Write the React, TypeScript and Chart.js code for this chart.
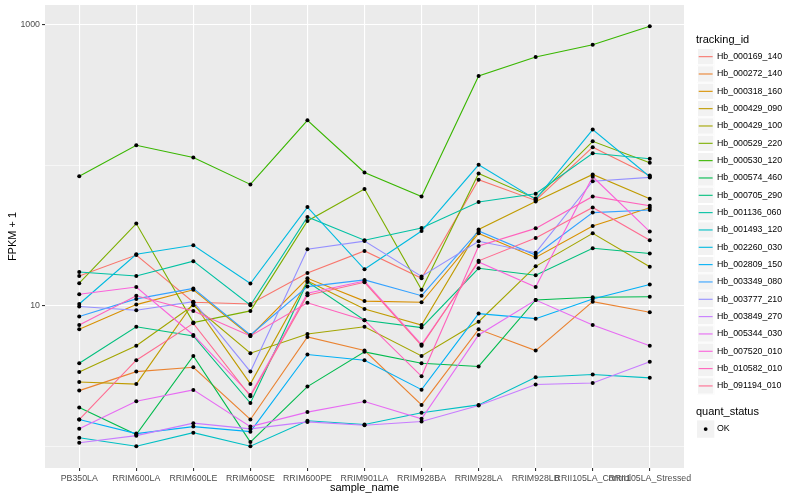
import React, { useEffect, useRef } from "react";
import { Chart, registerables } from "chart.js";

Chart.register(...registerables);

const sampleNames = [
  "PB350LA", "RRIM600LA", "RRIM600LE", "RRIM600SE", "RRIM600PE", "RRIM901LA",
  "RRIM928BA", "RRIM928LA", "RRIM928LB", "RRII105LA_Control", "RRII105LA_Stressed",
];

const trackingIds = [
  "Hb_000169_140", "Hb_000272_140", "Hb_000318_160", "Hb_000429_090", "Hb_000429_100",
  "Hb_000529_220", "Hb_000530_120", "Hb_000574_460", "Hb_000705_290", "Hb_001136_060",
  "Hb_001493_120", "Hb_002260_030", "Hb_002809_150", "Hb_003349_080", "Hb_003777_210",
  "Hb_003849_270", "Hb_005344_030", "Hb_007520_010", "Hb_010582_010", "Hb_091194_010",
];

const seriesColors = [
  "#F8766D", "#EA8331", "#D89000", "#C09B00", "#A3A500", "#7CAE00", "#39B600",
  "#00BB4E", "#00BF7D", "#00C1A3", "#00BFC4", "#00BAE0", "#00B0F6", "#35A2FF",
  "#9590FF", "#C77CFF", "#E76BF3", "#FA62DB", "#FF62BC", "#FF6C91",
];

// FPKM + 1 per sample (order of sampleNames)
const hb000169_140 = [16.3, 23.0, 10.6, 10.3, 17.1, 24.6, 15.7, 79.0, 56.3, 134.7, 84.8];
const hb000272_140 = [2.49, 3.4, 3.65, 1.55, 6.0, 4.8, 1.97, 6.8, 4.8, 10.7, 9.0];
const hb000318_160 = [6.8, 10.2, 13.0, 6.1, 15.7, 10.8, 10.6, 32.8, 22.1, 37.0, 50.0];
const hb000429_090 = [2.87, 2.77, 10.5, 2.78, 15.0, 9.5, 7.3, 35.0, 55.4, 86.2, 57.9];
const hb000429_100 = [3.38, 5.2, 10.1, 4.6, 6.3, 7.1, 4.4, 7.7, 19.1, 32.8, 19.0];
const hb000529_220 = [14.5, 38.5, 7.6, 9.2, 40.2, 67.8, 13.0, 87.6, 58.2, 148.5, 104.3];
const hb000530_120 = [83.8, 139.2, 113.8, 73.2, 209.4, 89.0, 60.1, 432.9, 590.6, 722, 980];
const hb000574_460 = [1.89, 1.21, 4.4, 1.07, 2.66, 4.7, 3.9, 3.7, 11.0, 11.5, 11.6];
const hb000705_290 = [3.9, 7.1, 6.1, 2.03, 14.8, 7.9, 7.0, 18.5, 16.5, 25.7, 23.6];
const hb001136_060 = [17.4, 16.3, 20.8, 10.1, 42.9, 29.3, 35.8, 54.8, 62.8, 122.1, 111.4];
const hb001493_120 = [1.15, 1.0, 1.25, 1.0, 1.52, 1.43, 1.73, 1.97, 3.1, 3.24, 3.07];
const hb002260_030 = [10.3, 23.3, 27.0, 14.4, 50.5, 18.2, 34.1, 101.0, 57.3, 179.9, 83.0];
const hb002809_150 = [1.55, 1.23, 1.38, 1.27, 4.5, 4.1, 2.53, 8.8, 8.1, 11.2, 14.2];
const hb003349_080 = [8.4, 11.2, 13.3, 6.2, 13.7, 15.3, 11.8, 34.1, 23.0, 46.1, 48.1];
const hb003777_210 = [9.9, 9.3, 10.7, 3.4, 25.3, 28.9, 16.2, 28.8, 23.9, 77.2, 82.1];
const hb003849_270 = [1.06, 1.19, 1.46, 1.33, 1.49, 1.41, 1.5, 1.95, 2.75, 2.82, 4.0];
const hb005344_030 = [1.33, 2.09, 2.52, 1.38, 1.75, 2.08, 1.57, 6.2, 11.0, 7.3, 5.2];
const hb007520_010 = [12.1, 13.6, 6.2, 2.32, 12.3, 15.0, 5.3, 20.5, 13.6, 83.0, 33.8];
const hb010582_010 = [7.3, 11.8, 9.2, 6.1, 10.5, 7.9, 3.15, 26.7, 35.6, 60.1, 51.6];
const hb091194_010 = [1.55, 4.1, 7.5, 2.27, 11.9, 14.7, 5.2, 20.9, 30.4, 50.2, 29.3];

const seriesValues = [
  hb000169_140, hb000272_140, hb000318_160, hb000429_090, hb000429_100,
  hb000529_220, hb000530_120, hb000574_460, hb000705_290, hb001136_060,
  hb001493_120, hb002260_030, hb002809_150, hb003349_080, hb003777_210,
  hb003849_270, hb005344_030, hb007520_010, hb010582_010, hb091194_010,
];

const yGridValues = [1, 10, 100, 1000];
const yLabeledValues = [10, 1000];
const quantStatus = ["OK"];

const FONT = '"Liberation Sans", Arial, Helvetica, sans-serif';

const panelBg = {
  id: "panelBg",
  beforeDraw(chart: any) {
    const { ctx, chartArea } = chart;
    ctx.save();
    ctx.fillStyle = "#EBEBEB";
    ctx.fillRect(chartArea.left, chartArea.top, chartArea.right - chartArea.left, chartArea.bottom - chartArea.top);
    ctx.restore();
  },
};

const ggLegend = {
  id: "ggLegend",
  afterDraw(chart: any) {
    const ctx = chart.ctx;
    const keyX = 697;
    const key = 17.33;
    ctx.save();
    ctx.textAlign = "left";
    ctx.textBaseline = "middle";
    ctx.fillStyle = "#000000";
    ctx.font = `11px ${FONT}`;
    ctx.fillText("tracking_id", 696, 40);
    trackingIds.forEach((id, i) => {
      const top = 48 + i * key;
      ctx.fillStyle = "#F2F2F2";
      ctx.fillRect(keyX, top, key, key);
      ctx.strokeStyle = "#FFFFFF";
      ctx.lineWidth = 1;
      ctx.strokeRect(keyX + 0.5, top + 0.5, key - 1, key - 1);
      ctx.strokeStyle = seriesColors[i];
      ctx.lineWidth = 1.1;
      ctx.beginPath();
      ctx.moveTo(keyX + 1.7, top + key / 2);
      ctx.lineTo(keyX + key - 1.7, top + key / 2);
      ctx.stroke();
      ctx.fillStyle = "#000000";
      ctx.font = `8.8px ${FONT}`;
      ctx.fillText(id, 717, top + key / 2);
    });
    ctx.font = `11px ${FONT}`;
    ctx.fillText("quant_status", 696, 412);
    quantStatus.forEach((s, i) => {
      const top = 420.4 + i * key;
      ctx.fillStyle = "#F2F2F2";
      ctx.fillRect(keyX, top, key, key);
      ctx.fillStyle = "#000000";
      ctx.beginPath();
      ctx.arc(keyX + key / 2, top + key / 2, 1.9, 0, Math.PI * 2);
      ctx.fill();
      ctx.font = `8.8px ${FONT}`;
      ctx.fillText(s, 717, top + key / 2);
    });
    ctx.restore();
  },
};

export default function App() {
  const canvasRef = useRef<HTMLCanvasElement | null>(null);

  useEffect(() => {
    if (!canvasRef.current) return;
    const pointSets = seriesValues.map((vals, i) => ({
      label: trackingIds[i] + " points",
      data: vals.map((v, j) => ({ x: j, y: v })),
      showLine: false,
      pointRadius: 2,
      pointBackgroundColor: "#000000",
      pointBorderColor: "#000000",
      pointBorderWidth: 0,
      borderColor: "#000000",
    }));
    const lineSets = seriesValues
      .map((vals, i) => ({
        label: trackingIds[i],
        data: vals.map((v, j) => ({ x: j, y: v })),
        borderColor: seriesColors[i],
        backgroundColor: seriesColors[i],
        borderWidth: 1.1,
        pointRadius: 0,
        tension: 0,
        fill: false,
      }))
      .reverse();

    const chart = new Chart(canvasRef.current, {
      type: "line",
      data: { datasets: [...pointSets, ...lineSets] as any },
      options: {
        animation: false,
        responsive: false,
        maintainAspectRatio: false,
        layout: { padding: { left: 0, right: 116, top: 5, bottom: 0 } },
        plugins: { legend: { display: false }, tooltip: { enabled: false } },
        scales: {
          x: {
            type: "linear",
            min: -0.6,
            max: 10.6,
            afterBuildTicks: (s: any) => {
              s.ticks = sampleNames.map((_, i) => ({ value: i }));
            },
            afterFit: (s: any) => {
              s.height = 32;
              s.paddingLeft = 0;
              s.paddingRight = 0;
            },
            ticks: {
              autoSkip: false,
              maxRotation: 0,
              minRotation: 0,
              padding: 2,
              color: "#4D4D4D",
              font: { family: FONT, size: 8.8 },
              callback: (v: any) => sampleNames[v as number] ?? "",
            },
            grid: {
              color: "#FFFFFF",
              lineWidth: 1.1,
              tickLength: 3,
              tickColor: "#333333",
              tickWidth: 1.1,
            },
            border: { display: false },
            title: {
              display: true,
              text: "sample_name",
              color: "#000000",
              font: { family: FONT, size: 11 },
              padding: { top: 0, bottom: 5 },
            },
          },
          y: {
            type: "logarithmic",
            min: 0.715,
            max: 1387,
            afterBuildTicks: (s: any) => {
              s.ticks = yGridValues.map((v) => ({ value: v }));
            },
            afterFit: (s: any) => {
              s.width = 45;
              s.paddingTop = 0;
              s.paddingBottom = 0;
            },
            ticks: {
              padding: 2,
              color: "#4D4D4D",
              font: { family: FONT, size: 8.8 },
              callback: (v: any) => (yLabeledValues.includes(v as number) ? String(v) : ""),
            },
            grid: {
              color: "#FFFFFF",
              lineWidth: (c: any) => (yLabeledValues.includes(c.tick?.value) ? 1.1 : 0.55),
              tickLength: 3,
              tickColor: (c: any) => (yLabeledValues.includes(c.tick?.value) ? "#333333" : "rgba(0,0,0,0)"),
              tickWidth: 1.1,
            },
            border: { display: false },
            title: {
              display: true,
              text: "FPKM + 1",
              color: "#000000",
              font: { family: FONT, size: 11 },
              padding: { top: 6, bottom: 0 },
            },
          },
        },
      },
      plugins: [panelBg, ggLegend],
    } as any);
    return () => chart.destroy();
  }, []);

  return (
    <div style={{ position: "fixed", left: 0, top: 0, width: 800, height: 500, background: "#FFFFFF" }}>
      <canvas ref={canvasRef} width={800} height={500} style={{ width: 800, height: 500, display: "block" }} />
    </div>
  );
}
